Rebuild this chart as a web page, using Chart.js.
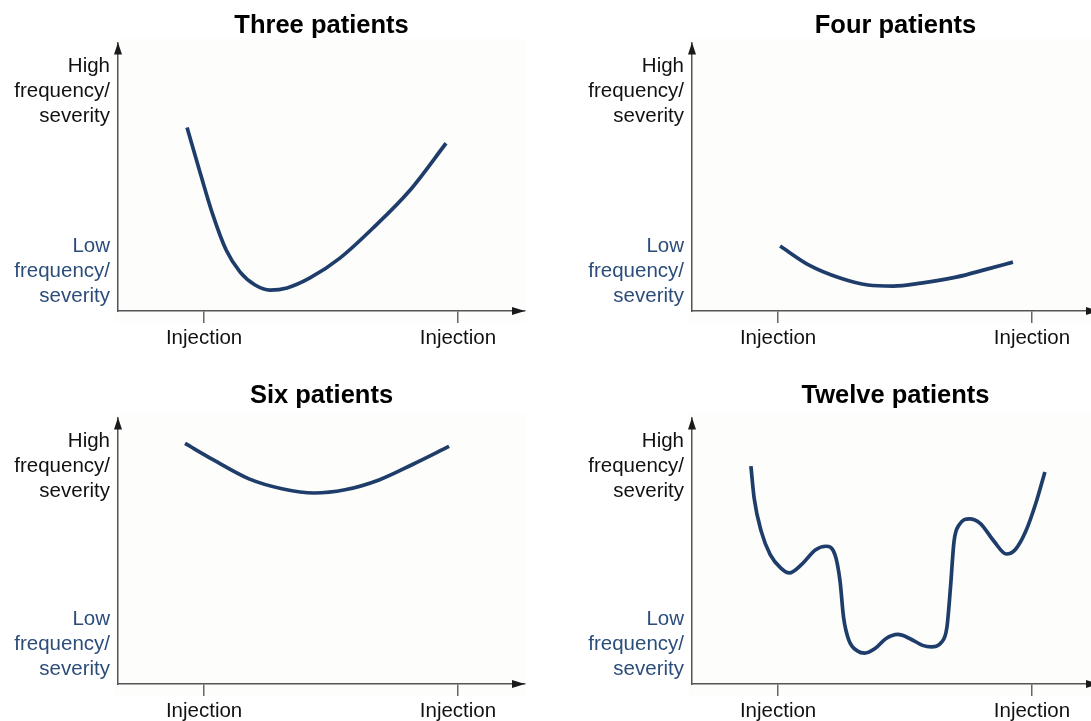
<!DOCTYPE html>
<html>
<head>
<meta charset="utf-8">
<script src="https://cdn.jsdelivr.net/npm/chart.js@4.4.0/dist/chart.umd.min.js"></script>
<style>
  html, body { margin: 0; padding: 0; background: #fff; width: 1091px; height: 721px; overflow: hidden; position: relative; }
  canvas { position: absolute; }
</style>
</head>
<body>
<canvas id="three" width="530" height="350" style="left:0px;top:0px"></canvas>
<canvas id="four" width="530" height="350" style="left:574px;top:0px"></canvas>
<canvas id="six" width="530" height="350" style="left:0px;top:373px"></canvas>
<canvas id="twelve" width="530" height="350" style="left:574px;top:373px"></canvas>
<script>
// time axis: first injection = 0, next injection = 10
var injectionTimes = [0, 10];
var injectionLabels = ['Injection', 'Injection'];

// y axis: 0 = none, 10 = top of axis
var levelValues = [1.49, 8.18];
var lowLabel = ['Low', 'frequency/', 'severity'];
var highLabel = ['High', 'frequency/', 'severity'];

var threeX = [-0.67, -0.16, 0.35, 0.87, 1.42, 2.01, 2.60, 3.27, 4.17, 5.35, 6.73, 8.11, 9.53];
var threeY = [6.84, 5.17, 3.57, 2.27, 1.45, 0.97, 0.78, 0.86, 1.23, 1.97, 3.16, 4.50, 6.25];

var fourX = [0.08, 1.22, 2.44, 3.54, 4.53, 5.63, 7.01, 8.23, 9.25];
var fourY = [2.42, 1.71, 1.23, 0.97, 0.93, 1.04, 1.26, 1.56, 1.82];

var sixX = [-0.75, 0.39, 1.77, 3.11, 4.33, 5.55, 6.89, 8.23, 9.65];
var sixY = [9.03, 8.40, 7.70, 7.32, 7.17, 7.29, 7.66, 8.25, 8.92];

var twelveX = [-1.07, -0.94, -0.66, -0.31, 0.10, 0.44, 0.93, 1.48, 1.89, 2.24, 2.44, 2.58, 2.79, 3.13, 3.41,
               3.82, 4.24, 4.72, 5.20, 5.69, 6.03, 6.44, 6.65, 6.79, 6.93, 7.13, 7.54, 7.96, 8.51, 8.99,
               9.34, 9.75, 10.17, 10.51];
var twelveY = [8.18, 6.96, 5.72, 4.86, 4.36, 4.17, 4.49, 5.04, 5.17, 4.86, 3.87, 2.50, 1.64, 1.24, 1.16,
               1.33, 1.70, 1.86, 1.70, 1.45, 1.39, 1.57, 2.13, 3.62, 5.35, 5.97, 6.20, 6.03, 5.35, 4.88,
               5.04, 5.72, 6.84, 7.96];

var FONT = "'Liberation Sans', Arial, Helvetica, sans-serif";
var lineColor = '#1f3d6a';
var lowColor = '#2c4d7a';

var axisArrows = {
    id: 'axisArrows',
    beforeDraw: function (chart) {
        var a = chart.chartArea, ctx = chart.ctx;
        ctx.save();
        ctx.fillStyle = '#fdfdfc';
        ctx.fillRect(a.left - 3, a.top - 4, a.right - a.left + 3, a.bottom - a.top + 16);
        ctx.restore();
    },
    afterDraw: function (chart) {
        var a = chart.chartArea, ctx = chart.ctx;
        ctx.save();
        ctx.fillStyle = '#1a1a1a';
        ctx.beginPath();
        ctx.moveTo(a.left, a.top);
        ctx.lineTo(a.left - 4, a.top + 12);
        ctx.lineTo(a.left + 4, a.top + 12);
        ctx.closePath();
        ctx.fill();
        ctx.beginPath();
        ctx.moveTo(a.right, a.bottom);
        ctx.lineTo(a.right - 13, a.bottom - 4);
        ctx.lineTo(a.right - 13, a.bottom + 4);
        ctx.closePath();
        ctx.fill();
        ctx.restore();
    }
};

function makeChart(id, title, xs, ys, titlePad) {
    var points = xs.map(function (x, i) { return {x: x, y: ys[i]}; });
    return new Chart(document.getElementById(id), {
        type: 'line',
        data: {
            datasets: [{
                data: points,
                borderColor: lineColor,
                borderWidth: 3.7,
                borderCapStyle: 'butt',
                pointRadius: 0,
                fill: false,
                cubicInterpolationMode: 'monotone'
            }]
        },
        options: {
            responsive: false,
            animation: false,
            events: [],
            layout: {padding: {left: 0, right: 5, top: 0, bottom: 0}},
            plugins: {
                legend: {display: false},
                tooltip: {enabled: false},
                title: {
                    display: true,
                    text: title,
                    fullSize: false,
                    color: '#000',
                    font: {family: FONT, size: 25.5, weight: 'bold'},
                    padding: titlePad
                }
            },
            scales: {
                x: {
                    type: 'linear',
                    min: -3.39,
                    max: 12.64,
                    afterBuildTicks: function (scale) {
                        scale.ticks = injectionTimes.map(function (v) { return {value: v}; });
                    },
                    afterFit: function (scale) {
                        scale.height = 39;
                        scale.paddingLeft = 0;
                        scale.paddingRight = 0;
                    },
                    ticks: {
                        autoSkip: false,
                        maxRotation: 0,
                        padding: 3,
                        color: '#111',
                        font: {family: FONT, size: 20.5},
                        callback: function (v, i) { return injectionLabels[i]; }
                    },
                    grid: {drawOnChartArea: false, drawTicks: true, tickLength: 12, color: '#666', lineWidth: 1.5},
                    border: {display: true, color: '#555', width: 1.5}
                },
                y: {
                    type: 'linear',
                    min: 0,
                    max: 10,
                    afterBuildTicks: function (scale) {
                        scale.ticks = levelValues.map(function (v) { return {value: v}; });
                    },
                    afterFit: function (scale) {
                        scale.width = 118;
                        scale.paddingTop = 0;
                        scale.paddingBottom = 0;
                    },
                    ticks: {
                        autoSkip: false,
                        padding: 8,
                        color: function (c) { return c.index === 0 ? lowColor : '#111'; },
                        font: {family: FONT, size: 20.5, lineHeight: 1.22},
                        callback: function (v, i) { return i === 0 ? lowLabel : highLabel; }
                    },
                    grid: {display: false, drawTicks: false},
                    border: {display: true, color: '#555', width: 1.5}
                }
            }
        },
        plugins: [axisArrows]
    });
}

makeChart('three', 'Three patients', threeX, threeY, {top: 11, bottom: 1});
makeChart('four', 'Four patients', fourX, fourY, {top: 11, bottom: 1});
makeChart('six', 'Six patients', sixX, sixY, {top: 8, bottom: 6});
makeChart('twelve', 'Twelve patients', twelveX, twelveY, {top: 8, bottom: 6});
</script>
</body>
</html>
